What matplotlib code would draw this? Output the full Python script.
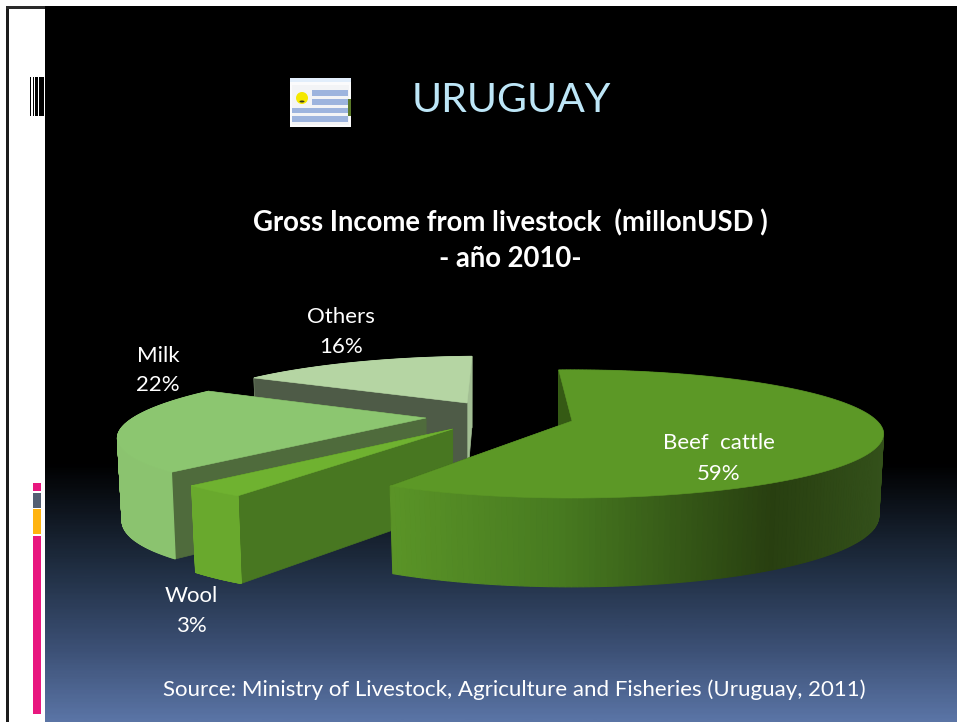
import matplotlib
matplotlib.use("Agg")
import matplotlib.pyplot as plt
from matplotlib.colors import LinearSegmentedColormap
from matplotlib.patches import Polygon, Rectangle, Circle, Ellipse
import numpy as np

plt.rcParams['font.family'] = ['Lato', 'DejaVu Sans']

categories = ["Beef  cattle", "Wool", "Milk", "Others"]
shares = [59, 3, 22, 16]
first_slice_angle = 93.0

# x, y of the apex, x radius, y radius, perspective, shear
slice_geometry = {
    "Beef  cattle": (572, 421, 305, 61.4, 0.203, 0),
    "Wool": (452.7, 429, 297, 60, 0.25, 25.5),
    "Milk": (426, 418, 293, 60, 0.203, 34),
    "Others": (467, 403, 280, 56, 0.2, 20.6),
}
slice_colors = {
    "Beef  cattle": dict(top="#5c9826", rim="#5a9427", face="#355a14", end_face="#355a14"),
    "Wool": dict(top="#6fb230", rim="#69a92d", face="#487721", end_face="#487721"),
    "Milk": dict(top="#8cc670", rim="#8bc36f", face="#4f6b3c", end_face="#4f6b3c"),
    "Others": dict(top="#b5d5a3", rim="#aac99a", face="#4e5b47", end_face="#a3bf94"),
}
label_positions = {
    "Beef  cattle": (719, 442, 473),
    "Wool": (191, 595, 625),
    "Milk": (158, 355, 384),
    "Others": (341, 316, 346),
}
side_height = 80
source_text = "Source: Ministry of Livestock, Agriculture and Fisheries (Uruguay, 2011)"

beef_rim = LinearSegmentedColormap.from_list(
    "rim", [(0, "#5a9427"), (0.35, "#477a20"), (0.78, "#283f10"), (1, "#33501a")])


def project(name, ang):
    # unit circle seen in perspective, x to the right, d into the page
    cx, cy, a, b, k, s = slice_geometry[name]
    x = np.cos(np.radians(ang))
    d = np.sin(np.radians(ang))
    w = 1 + k * d
    return cx + (a * x + s * d) / w, cy - b * d / w, d


def lower(name, X, Y, d):
    cx = slice_geometry[name][0]
    return cx + (X - cx) * 0.985, Y + side_height * (1 - 0.11 * d)


def draw_rim(ax, name, X, Y, Xb, Yb, keep):
    for i in range(len(X) - 1):
        if not keep[i]:
            continue
        c = slice_colors[name]["rim"]
        if name == "Beef  cattle":
            c = beef_rim((X[i] - X.min()) / (X.max() - X.min()))
        ax.add_patch(Polygon([(X[i], Y[i]), (X[i + 1], Y[i + 1]),
                              (Xb[i + 1], Yb[i + 1]), (Xb[i], Yb[i])],
                             closed=True, fc=c, ec=c, lw=0.8))


def draw_slice(ax, name, start, stop):
    col = slice_colors[name]
    cx, cy = slice_geometry[name][:2]
    angs = np.linspace(start, stop, 240)
    X, Y, d = project(name, angs)
    Xb, Yb = lower(name, X, Y, d)
    cxb, cyb = lower(name, cx, cy, 0.0)

    # back half of the rim, then the flat cuts, then the front half
    draw_rim(ax, name, X, Y, Xb, Yb, d > 0)
    for i, c in ((-1, col["end_face"]), (0, col["face"])):
        ax.add_patch(Polygon([(cx, cy), (X[i], Y[i]), (Xb[i], Yb[i]), (cxb, cyb)],
                             closed=True, fc=c, ec=c, lw=0.5))
    draw_rim(ax, name, X, Y, Xb, Yb, d <= 0)

    ax.add_patch(Polygon([(cx, cy)] + list(zip(X, Y)), closed=True,
                         fc=col["top"], ec=col["top"], lw=0.4))


fig = plt.figure(figsize=(9.57, 7.22), dpi=100, facecolor="white")
ax = fig.add_axes([0, 0, 1, 1])

# slide background, black fading into blue at the bottom
bg_cmap = LinearSegmentedColormap.from_list(
    "slide", [(0, "#000000"), (0.64, "#000000"), (0.78, "#1e2c3f"),
              (0.90, "#3c5075"), (1, "#5a74a5")])
ax.imshow(np.linspace(0, 1, 400)[:, None], cmap=bg_cmap, extent=(45, 957, 722, 6),
          aspect="auto", zorder=0)
ax.set_xlim(0, 957)
ax.set_ylim(722, 0)
ax.axis("off")

# left margin of the slide
ax.add_patch(Rectangle((6, 6), 3, 716, fc="#1c1c1c", ec="none"))
ax.add_patch(Rectangle((6, 6), 39, 3, fc="#2a2a2a", ec="none"))
for x0, x1 in [(30, 31), (33, 34), (35, 38), (39, 44)]:
    ax.add_patch(Rectangle((x0, 77), x1 - x0, 39, fc="black", ec="none"))
for y0, y1, c in [(483, 491, "#e8177f"), (493, 508, "#545f73"),
                  (509, 534, "#ffb30f"), (536, 714, "#e8177f")]:
    ax.add_patch(Rectangle((33, y0), 8, y1 - y0, fc=c, ec="none"))

# small flag beside the heading
ax.add_patch(Rectangle((290, 78), 61, 49, fc="#fbfbfc", ec="none"))
ax.add_patch(Rectangle((292, 85), 57, 40, fc="#f3f4f6", ec="none"))
ax.add_patch(Rectangle((290, 78), 61, 4, fc="#e2eefb", ec="none"))
for x0, y0 in [(312, 90), (312, 99), (292, 107.5), (292, 116)]:
    ax.add_patch(Rectangle((x0, y0), 348 - x0, 5.5, fc="#9db4de", ec="none"))
ax.add_patch(Rectangle((348, 99), 3, 17, fc="#5a7a2a", ec="none"))
ax.add_patch(Circle((302, 98), 6, fc="#f5e800", ec="none"))
ax.add_patch(Ellipse((302, 101.5), 5, 2, fc="#3a3a20", ec="none"))

# exploded pie, painted back to front
angle = first_slice_angle
spans = {}
for name, share in zip(categories, shares):
    spans[name] = (angle, angle - share * 3.6)
    angle -= share * 3.6
for name in ["Others", "Milk", "Wool", "Beef  cattle"]:
    draw_slice(ax, name, *spans[name])

for name, share in zip(categories, shares):
    x, y1, y2 = label_positions[name]
    ax.text(x, y1 + 1, name, color="white", fontsize=16, ha="center", va="center")
    ax.text(x, y2 + 1, f"{share}%", color="white", fontsize=16, ha="center", va="center")

ax.text(511, 101, "URUGUAY", color="#bde6f7", fontsize=29.5, ha="center", va="center")
ax.text(510, 223, "Gross Income from livestock  (millonUSD )", color="white",
        fontsize=19.8, fontweight="bold", ha="center", va="center")
ax.text(510, 259, "- año 2010-", color="white", fontsize=19.8, fontweight="bold",
        ha="center", va="center")
ax.text(514, 690, source_text, color="white", fontsize=16, ha="center", va="center")

fig.savefig("out.png", dpi=100)
